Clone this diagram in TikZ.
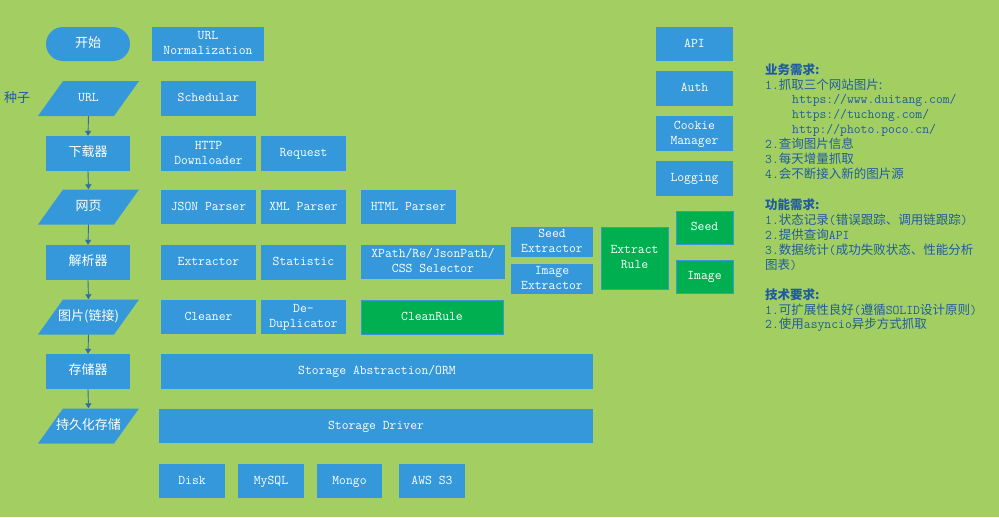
\documentclass[tikz,border=0pt]{standalone}
\usepackage{fontspec}
\newfontfamily\cjk{Noto Sans CJK SC}
\usetikzlibrary{calc,arrows.meta}
\definecolor{bg}{HTML}{A3CF62}
\definecolor{bb}{HTML}{3598DB}
\definecolor{gb}{HTML}{00B050}
\definecolor{tx}{HTML}{1F5C9E}
\definecolor{ar}{HTML}{2D6DA8}
\newcommand\zh[1]{{\cjk\fontsize{13}{15}\selectfont #1}}
\newcommand\zr[1]{{\cjk\fontsize{12.5}{15}\selectfont #1}}
\newcommand\zb[1]{{\cjk\bfseries\fontsize{12.5}{15}\selectfont #1}}
\newcommand\bx[7][box]{\node[#1, minimum width={#5-#3}, minimum height={#6-#4}] (#2) at ({(#3+#5)/2},{(#4+#6)/2}) {\strut#7\strut};}
\newcommand\para[3]{%
  \fill[bb] ($(#2)+(-50.5,17.5)$) -- ++(76,0) -- ++(25,-35) -- ++(-76,0) -- cycle;
  \node[paranode] (#1) at (#2) {\strut#3};}
\begin{document}
\begin{tikzpicture}[x=1pt,y=-1pt,
  every node/.style={font=\ttfamily\fontsize{13.3}{15}\selectfont},
  box/.style={fill=bb, text=white, inner sep=0pt, align=center},
  gbox/.style={fill=gb, draw=bb, line width=0.8pt, text=white, inner sep=0pt, align=center},
  paranode/.style={text=white, inner sep=0pt, minimum width=76, minimum height=35},
  arrow/.style={draw=ar, line width=0.9pt, -{Triangle[width=6pt,length=5pt]}},
  req/.style={text=tx, anchor=west, inner sep=0pt}]
\fill[bg] (0,0) rectangle (999,517);
\useasboundingbox (0,0) rectangle (999,517);
% left column
\node[box, rounded corners=17pt, minimum width=84, minimum height=34] (start) at (88,44) {\strut\zh{开始}};
\para{url}{88.5,98.5}{URL}
\bx{dl}{46}{136}{130}{171}{\zh{下载器}}
\para{page}{88.5,207}{\zh{网页}}
\bx{parser}{46}{245}{130}{280}{\zh{解析器}}
\para{img}{88.5,317}{\zh{图片(链接)}}
\bx{store}{46}{354}{130}{389}{\zh{存储器}}
\para{persist}{88.5,426}{\zh{持久化存储}}
\node[text=tx, anchor=west, inner sep=0pt] (seedlbl) at (4,98) {\zh{种子}};
\draw[arrow] (url.south) -- (dl.north);
\draw[arrow] (dl.south) -- (page.north);
\draw[arrow] (page.south) -- (parser.north);
\draw[arrow] (parser.south) -- (img.north);
\draw[arrow] (img.south) -- (store.north);
\draw[arrow] (store.south) -- (persist.north);
% middle
\bx{norm}{152}{27}{264}{61}{URL\\Normalization}
\bx{sched}{161}{81}{256}{116}{Schedular}
\bx{http}{161}{136}{256}{171}{HTTP\\Downloader}
\bx{request}{261}{136}{346}{171}{Request}
\bx{json}{161}{190}{256}{224}{JSON Parser}
\bx{xml}{261}{190}{346}{224}{XML Parser}
\bx{html}{361}{190}{456}{224}{HTML Parser}
\bx{extractor}{161}{245}{256}{280}{Extractor}
\bx{statistic}{261}{245}{346}{280}{Statistic}
\bx{xpath}{361}{245}{505}{279}{XPath/Re/JsonPath/\\CSS Selector}
\bx{seedex}{511}{227}{593}{256}{Seed\\Extractor}
\bx{imgex}{511}{265}{593}{293}{Image\\Extractor}
\bx[gbox]{rule}{601}{227}{668}{289}{Extract\\Rule}
\bx{cleaner}{161}{300}{256}{334}{Cleaner}
\bx{dedup}{261}{300}{346}{334}{De-\\Duplicator}
\bx[gbox]{cleanrule}{361}{300}{503}{334}{CleanRule}
\bx{orm}{161}{354}{593}{389}{Storage Abstraction/ORM}
\bx{driver}{159}{409}{593}{443}{Storage Driver}
\bx{disk}{159}{464}{225}{498}{Disk}
\bx{mysql}{238}{464}{304}{498}{MySQL}
\bx{mongo}{317}{464}{382}{498}{Mongo}
\bx{s3}{399}{464}{465}{498}{AWS S3}
% right column
\bx{api}{656}{27}{733}{61}{API}
\bx{auth}{656}{71}{733}{106}{Auth}
\bx{cookie}{656}{116}{733}{151}{Cookie\\Manager}
\bx{logging}{656}{161}{733}{196}{Logging}
\bx[gbox]{seed}{676}{211}{733}{244}{Seed}
\bx[gbox]{image}{676}{260}{733}{293}{Image}
% requirements text
\node[req] (r1) at (765,70) {\zb{业务需求:}};
\node[req] (r2) at (765,85) {1.\zr{抓取三个网站图片:}};
\node[req] (r3) at (792,100) {https://www.duitang.com/};
\node[req] (r4) at (792,115) {https://tuchong.com/};
\node[req] (r5) at (792,130) {http://photo.poco.cn/};
\node[req] (r6) at (765,144) {2.\zr{查询图片信息}};
\node[req] (r7) at (765,159) {3.\zr{每天增量抓取}};
\node[req] (r8) at (765,174) {4.\zr{会不断接入新的图片源}};
\node[req] (f1) at (765,205) {\zb{功能需求:}};
\node[req] (f2) at (765,220) {1.\zr{状态记录}(\zr{错误跟踪、调用链跟踪})};
\node[req] (f3) at (765,235) {2.\zr{提供查询}API};
\node[req] (f4) at (765,250) {3.\zr{数据统计}(\zr{成功失败状态、性能分析}};
\node[req] (f5) at (765,265) {\zr{图表})};
\node[req] (t1) at (765,295) {\zb{技术要求:}};
\node[req] (t2) at (765,310) {1.\zr{可扩展性良好}(\zr{遵循}SOLID\zr{设计原则})};
\node[req] (t3) at (765,325) {2.\zr{使用}asyncio\zr{异步方式抓取}};
\end{tikzpicture}
\end{document}
